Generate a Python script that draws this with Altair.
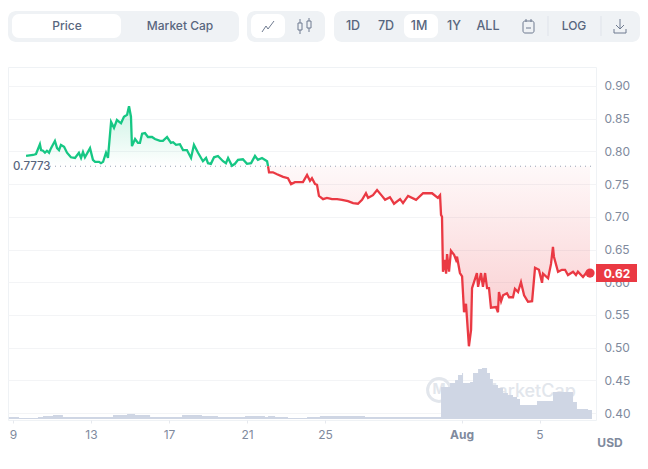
import altair as alt

BASE = 0.7773

# Price series, split where it crosses the opening price. Day numbers run on from July (Aug 1 = 32).
up_days = [9.67,10.03,10.18,10.38,10.44,10.54,10.64,10.74,10.85,10.95,11.15,11.26,11.36,11.46,11.62,11.77,11.97,12.18,12.38,12.49,12.59,12.69,12.95,13.10,13.21,13.41,13.51,13.62,13.77,13.87,14.03,14.18,14.33,14.54,14.69,14.85,14.95,15.05,15.10,15.26,15.41,15.51,15.62,15.77,15.92,16.13,16.28,16.54,16.69,16.90,17.10,17.21,17.36,17.56,17.72,17.92,18.13,18.28,18.49,18.74,18.90,19.00,19.15,19.31,19.51,19.77,19.92,20.03,20.23,20.38,20.54,20.79,21.00,21.21,21.41,21.56,21.77,22.03,22.08]
up_prices = [.793,.7945,.796,.811,.802,.801,.798,.801,.798,.805,.816,.805,.802,.810,.807,.798,.791,.790,.798,.790,.799,.791,.805,.787,.784,.784,.782,.784,.798,.790,.845,.836,.848,.843,.853,.856,.869,.853,.808,.819,.813,.813,.827,.828,.822,.822,.819,.816,.816,.822,.813,.814,.810,.811,.802,.802,.790,.810,.798,.785,.790,.782,.781,.791,.793,.785,.782,.790,.778,.781,.787,.788,.781,.782,.793,.787,.790,.785,.7773]

down_days = [22.08,22.13,22.33,22.54,22.85,23.10,23.26,23.46,23.87,24.08,24.23,24.33,24.49,24.59,24.69,24.90,25.10,25.36,25.62,25.87,26.18,26.44,26.69,26.90,27.10,27.21,27.46,27.67,27.92,28.08,28.33,28.54,28.85,29.00,29.26,29.67,30.03,30.49,30.79,30.90,30.95,31.00,31.05,31.15,31.21,31.26,31.36,31.46,31.62,31.72,31.77,31.92,32.03,32.13,32.23,32.28,32.38,32.49,32.54,32.79,32.85,33.00,33.10,33.21,33.31,33.41,33.51,33.77,33.87,33.92,34.03,34.13,34.33,34.44,34.64,34.74,34.90,35.05,35.21,35.41,35.62,35.77,35.97,36.13,36.18,36.44,36.59,36.69,36.74,36.95,37.15,37.31,37.46,37.72,37.87,37.97,38.23,38.44,38.59]
down_prices = [.7773,.768,.768,.765,.761,.759,.750,.753,.753,.764,.755,.759,.750,.749,.732,.727,.729,.727,.727,.726,.724,.721,.720,.726,.736,.729,.733,.741,.732,.726,.730,.720,.727,.721,.732,.726,.736,.736,.729,.733,.703,.700,.616,.634,.613,.643,.616,.648,.642,.634,.639,.614,.609,.554,.567,.545,.502,.527,.591,.614,.593,.614,.593,.614,.591,.591,.561,.562,.554,.585,.571,.580,.583,.577,.577,.590,.585,.600,.580,.570,.571,.622,.619,.599,.613,.606,.628,.654,.639,.616,.619,.619,.611,.616,.611,.616,.608,.616,.614]

vol_days = [8.79,9.31,10.28,10.54,11.05,11.56,12.44,13.46,14.13,14.85,15.26,16.03,17.41,17.67,18.69,19.51,20.90,21.92,22.08,22.44,23.10,24.08,24.74,26.03,27.05,28.85,30.38,30.95,31.41,31.67,31.82,32.03,32.08,32.44,32.59,32.85,33.05,33.31,33.46,33.61,33.87,34.13,34.38,34.64,34.85,35.00,35.87,36.69,37.72,37.92,38.49,38.69]
vol_values = [1,.5,1,1.5,2,1,1,1,2,2.5,2,1,1,2,1.5,1,1.5,1,1.5,1,.5,1,1.5,1.5,1,1,1,16,18,19.5,22,23,18,18.5,23,25,25.5,23,20,17,15.5,13,12,11,10,7,9,13.5,8.5,5,4.5,4]

y_ticks = [0.40,0.45,0.50,0.55,0.60,0.65,0.70,0.75,0.80,0.85,0.90]
x_ticks = [9,13,17,21,25,32,36]
range_labels = ["1D","7D","1M","1Y","ALL"]
type_labels = ["Price","Market Cap"]

up = alt.Data(values=[{"d":d,"p":p,"b":BASE} for d,p in zip(up_days,up_prices)])
down = alt.Data(values=[{"d":d,"p":p,"b":BASE} for d,p in zip(down_days,down_prices)])
vol = alt.Data(values=[{"d":d,"v":v} for d,v in zip(vol_days,vol_values)])
last = alt.Data(values=[{"d":down_days[-1],"p":down_prices[-1]}])

OX, OY = 8, 67
W, H = 588, 353
FONT = "Inter"
GREEN, RED = "#16c784", "#ea3943"
GREY, SLATE = "#808a9d", "#58667e"
ICON = "#6f7b90"
PANEL = "#eff2f5"

xs = alt.Scale(domain=[8.744,38.897], nice=False, zero=False)
ys = alt.Scale(domain=[0.3893,0.92905], nice=False, zero=False)
X = alt.X("d:Q", scale=xs, title=None)
Y = alt.Y("p:Q", scale=ys, title=None, axis=None)

def px(v): return alt.value(v-OX)
def py(v): return alt.value(v-OY)

def box(x1,x2,y1,y2,fill=None,radius=0,stroke=None,sw=1):
    kw = dict(cornerRadius=radius)
    if fill: kw["fill"]=fill
    else: kw["fillOpacity"]=0
    if stroke: kw.update(stroke=stroke,strokeWidth=sw)
    return alt.Chart().mark_rect(**kw).encode(x=px(x1),x2=px(x2),y=py(y1),y2=py(y2))

def seg(x1,y1,x2,y2,color=ICON,sw=1):
    return alt.Chart().mark_rule(color=color,strokeWidth=sw).encode(x=px(x1),x2=px(x2),y=py(y1),y2=py(y2))

def label(t,x,y,size=12.5,weight=500,color=SLATE,align="center"):
    return alt.Chart().mark_text(text=t,font=FONT,fontSize=size,fontWeight=weight,color=color,align=align,baseline="middle").encode(x=px(x),y=py(y))

axes = alt.Chart(up).mark_line(opacity=0).encode(
    x=alt.X("d:Q",scale=xs,title=None,axis=alt.Axis(
        values=x_ticks,grid=False,domain=False,tickColor="#e6e9ee",tickSize=3,
        labelColor=GREY,labelFont=FONT,labelFontSize=12,labelPadding=6,
        labelFontWeight={"condition":{"test":"datum.value==32","value":700},"value":400},
        labelExpr="datum.value==32?'Aug':(datum.value>32?datum.value-31:datum.value)")),
    y=alt.Y("p:Q",scale=ys,title=None,axis=alt.Axis(
        orient="right",values=y_ticks,format=".2f",grid=True,gridColor="#f3f4f6",domain=False,ticks=False,
        labelColor=GREY,labelFont=FONT,labelFontSize=12,labelPadding=8)))

def grad(stops):
    return alt.Gradient(gradient="linear",x1=0,x2=0,y1=0,y2=1,
        stops=[alt.GradientStop(color=c,offset=o) for c,o in stops])

up_area = alt.Chart(up).mark_area(color=grad([("rgba(22,199,132,0.22)",0),("rgba(22,199,132,0)",1)]),interpolate="linear").encode(x=X,y=Y,y2="b:Q")
down_area = alt.Chart(down).mark_area(color=grad([("rgba(234,57,67,0.03)",0),("rgba(234,57,67,0.28)",1)]),interpolate="linear").encode(x=X,y=Y,y2="b:Q")
up_line = alt.Chart(up).mark_line(color=GREEN,strokeWidth=2.3).encode(x=X,y=Y)
down_line = alt.Chart(down).mark_line(color=RED,strokeWidth=2.3).encode(x=X,y=Y)
dot = alt.Chart(last).mark_point(filled=True,color=RED,size=85,opacity=1).encode(x=X,y=Y)
volume = alt.Chart(vol).mark_area(color="#cfd6e4",interpolate="step-after").encode(
    x=X,y=alt.Y("v:Q",stack=None,title=None,axis=None,scale=alt.Scale(domain=[-0.5,176],nice=False,zero=False)))
baseline = alt.Chart().mark_rule(color="#9aa3b5",strokeWidth=1,strokeDash=[1,4]).encode(
    y=alt.Y(datum=BASE,scale=ys,axis=None),x=px(50),x2=px(594))
base_bg = box(12,50,161,174,fill="#ffffff")
base_text = label("0.7773",13,167,size=11.5,weight=500,align="left")

wm = [
    alt.Chart().mark_point(shape="circle",size=520,filled=False,stroke="#e2e6ec",strokeWidth=3,opacity=1).encode(x=px(439),y=py(390)),
    label("M",439,390,size=14,weight=700,color="#e2e6ec"),
    label("MarketCap",481,392,size=18,weight=500,color="#e2e6ec",align="left"),
]

tag = [box(596,637,264,282,fill=RED), label("0.62",617,273.5,size=12,weight=700,color="#ffffff")]
usd = label("USD",610,443,size=12,weight=700,color=GREY)

toolbar = [
    box(8,239,11,42,fill=PANEL,radius=8),
    box(12,121,14,38,fill="#ffffff",radius=7),
    box(247,325,11,42,fill=PANEL,radius=8),
    box(251,285,14,38,fill="#ffffff",radius=7),
    box(334,640,11,42,fill=PANEL,radius=8),
    box(404,438,14,38,fill="#ffffff",radius=7),
    label(type_labels[0],67,26,size=12),
    label(type_labels[1],180,26,size=12),
]
for t,x in zip(range_labels,[353,386,419,454,488]):
    toolbar.append(label(t,x,26))
toolbar += [
    label("LOG",574,26,size=12),
    seg(548,16,548,36,"#dfe3ea"), seg(601,16,601,36,"#dfe3ea"),
    # line icon
    seg(262,32,266,26), seg(266,26,268,29), seg(268,29,274,21),
    # candle icon
    seg(300,19,300,23), seg(300,30,300,34), box(298,302,23,30,stroke=ICON), seg(309,18,309,21), seg(309,28,309,32), box(307,311,21,28,stroke=ICON),
    # calendar icon
    box(523,534,21,33,stroke=ICON,radius=2), seg(526,19,526,22), seg(531,19,531,22), seg(526,28,531,28),
    # download icon
    seg(620,19,620,29), seg(616,25,620,29), seg(624,25,620,29), seg(614,29,614,33), seg(626,29,626,33), seg(614,33,626,33),
]

chart = alt.layer(
    axes, *wm, volume, up_area, down_area, baseline, up_line, down_line, dot,
    base_bg, base_text, *tag, usd, *toolbar
).resolve_scale(y="independent").properties(
    width=W,height=H,
    autosize=alt.AutoSizeParams(type="none"),
    padding={"left":0,"top":OY-8,"right":44,"bottom":38},
).configure_view(stroke="#eff2f5")

chart.save("out.html", embed_options={"renderer":"svg","actions":False})
